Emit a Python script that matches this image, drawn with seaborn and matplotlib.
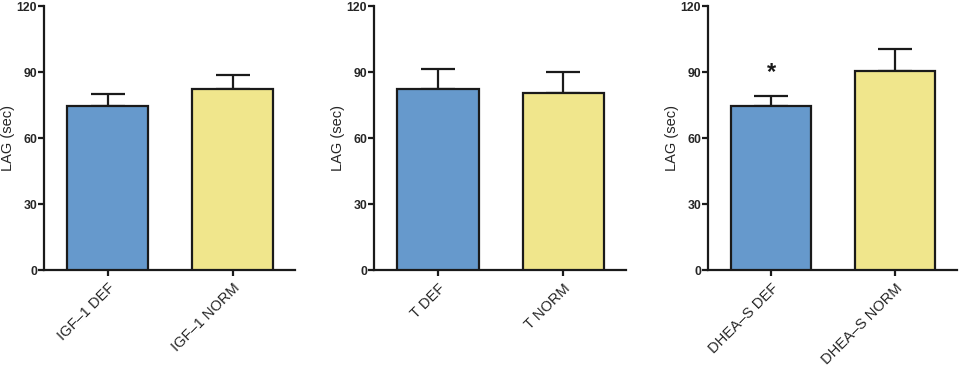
import matplotlib
matplotlib.use("Agg")
import matplotlib.pyplot as plt
import seaborn as sns
import pandas as pd

sns.set_theme(style="white")
plt.rcParams['font.family'] = ['Liberation Sans', 'DejaVu Sans']

panel1_labels = ["IGF–1 DEF", "IGF–1 NORM"]
panel1_means = [74.5, 82.3]
panel1_errs = [5.6, 6.3]

panel2_labels = ["T DEF", "T NORM"]
panel2_means = [82.1, 80.6]
panel2_errs = [9.1, 9.4]

panel3_labels = ["DHEA–S DEF", "DHEA–S NORM"]
panel3_means = [74.5, 90.6]
panel3_errs = [4.7, 9.9]

bar_colors = ["#6699CC", "#F0E68C"]
yticks = [0, 30, 60, 90, 120]

panels = [
    (panel1_labels, panel1_means, panel1_errs, [0.0458, 0.2643, 0.2615, 0.7193], None),
    (panel2_labels, panel2_means, panel2_errs, [0.3896, 0.2643, 0.2625, 0.7193], None),
    (panel3_labels, panel3_means, panel3_errs, [0.7375, 0.2643, 0.2594, 0.7193], 0),
]

fig = plt.figure(figsize=(9.6, 3.67), dpi=100)
lw = 1.6
for labels, means, errs, rect, star_idx in panels:
    ax = fig.add_axes(rect)
    df = pd.DataFrame({"group": labels, "value": means})
    sns.barplot(data=df, x="group", y="value", hue="group", palette=bar_colors,
                width=0.65, edgecolor="#1a1a1a", linewidth=lw, saturation=1,
                legend=False, ax=ax, zorder=3)
    ax.errorbar(range(len(means)), means, yerr=[[0] * len(errs), errs], fmt="none",
                ecolor="#1a1a1a", elinewidth=lw, capsize=12, capthick=lw, zorder=2)
    if star_idx is not None:
        ax.text(star_idx, means[star_idx] + errs[star_idx] + 5.5, "*", ha="center",
                va="bottom", fontsize=17, fontweight="bold", color="#1a1a1a")
    ax.set_ylim(0, 120)
    ax.set_xlim(-0.51, 1.5)
    ax.set_yticks(yticks)
    ax.set_yticklabels([str(t) for t in yticks], fontweight="bold", fontsize=8.8)
    ax.set_xticks(range(len(labels)))
    ax.set_xticklabels(labels, rotation=45, ha="right", rotation_mode="anchor", fontsize=10.5)
    ax.set_xlabel("")
    ax.set_ylabel("LAG (sec)", fontsize=10.5, labelpad=1)
    for s in ["top", "right"]:
        ax.spines[s].set_visible(False)
    for s in ["left", "bottom"]:
        ax.spines[s].set_linewidth(lw)
        ax.spines[s].set_color("#1a1a1a")
    ax.tick_params(axis="both", which="both", direction="out", length=4, width=lw,
                   color="#1a1a1a", left=True, bottom=True, pad=1)
    ax.tick_params(axis="x", pad=4)

fig.savefig("out.png", dpi=100)
